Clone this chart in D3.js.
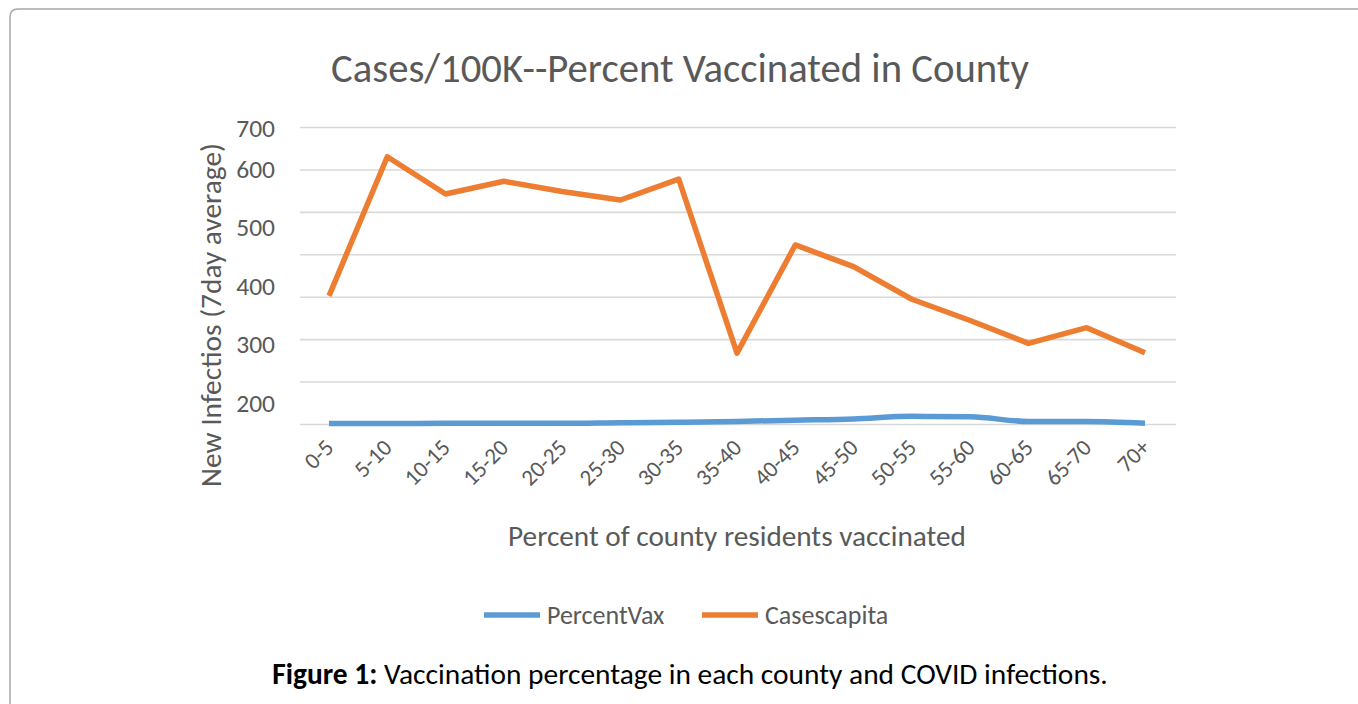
<!DOCTYPE html>
<html>
<head>
<meta charset="utf-8">
<script src="https://cdn.jsdelivr.net/npm/d3@7"></script>
<style>
  html, body { margin: 0; padding: 0; background: #fff; }
  svg { display: block; }
  text { font-family: Carlito, Calibri, Lato, "Open Sans", sans-serif; }
</style>
</head>
<body>
<script>
// ---- data ----
const categories = ["0-5","5-10","10-15","15-20","20-25","25-30","30-35","35-40","40-45","45-50","50-55","55-60","60-65","65-70","70+"];
const percentVax = [1, 1, 1.5, 1.5, 1.5, 3, 4, 6, 9, 12, 18, 17, 6, 6, 2];
const casesCapita = [302, 630, 542, 572, 548, 528, 577, 167, 422, 371, 294, 244, 190, 227, 168];
const gridValues = [0, 100, 200, 300, 400, 500, 600, 700];
const tickLabels = [700, 600, 500, 400, 300, 200];
const seriesNames = ["PercentVax", "Casescapita"];

const W = 1358, H = 704;
const svg = d3.select("body").append("svg").attr("width", W).attr("height", H);

// fit text to width helper
function fit(sel, width, base) {
  sel.attr("font-size", base);
  const len = sel.node().getComputedTextLength();
  if (len > 0) sel.attr("font-size", base * width / len);
  return sel;
}

// frame
svg.append("path")
  .attr("d", "M10,712 L10,17 Q10,9 18,9 L1370,9")
  .attr("fill", "none").attr("stroke", "#a6a6a6").attr("stroke-width", 1.5);

const x = d3.scalePoint().domain(categories).range([329, 1145]);
const y = d3.scaleLinear().domain([0, 700]).range([424, 127]);
const labelY = d3.scaleLinear().domain([200, 600, 700]).range([403, 169, 128]);

// gridlines
const gAxis = svg.append("g").attr("transform", "translate(300,0)")
  .call(d3.axisLeft(y).tickValues(gridValues).tickSize(-876).tickFormat(""));
gAxis.select(".domain").remove();
gAxis.selectAll(".tick line").attr("stroke", "#d9d9d9").attr("stroke-width", 1.6);

// y tick labels
svg.append("g").selectAll("text").data(tickLabels).join("text")
  .attr("x", 275).attr("y", d => labelY(d)).attr("dy", "0.35em")
  .attr("text-anchor", "end").attr("fill", "#595959").attr("font-size", 25.5)
  .text(d => d);

// x tick labels
svg.append("g").selectAll("text").data(categories).join("text")
  .attr("text-anchor", "end").attr("fill", "#595959").attr("font-size", 23)
  .attr("transform", d => `translate(${x(d) + 6},${449}) rotate(-45)`)
  .text(d => d);

// lines
const lineVax = d3.line().x((d, i) => x(categories[i])).y(d => y(d)).curve(d3.curveMonotoneX);
const lineCases = d3.line().x((d, i) => x(categories[i])).y(d => y(d));

svg.append("path").datum(percentVax).attr("d", lineVax)
  .attr("fill", "none").attr("stroke", "#5b9bd5").attr("stroke-width", 5.5).attr("stroke-linejoin", "round");
svg.append("path").datum(casesCapita).attr("d", lineCases)
  .attr("fill", "none").attr("stroke", "#ed7d31").attr("stroke-width", 5.5).attr("stroke-linejoin", "round");

// title
fit(svg.append("text").attr("x", 680).attr("y", 82).attr("text-anchor", "middle")
  .attr("fill", "#595959").text("Cases/100K--Percent Vaccinated in County"), 698, 36);

// y axis title
fit(svg.append("text").attr("transform", "translate(221,315) rotate(-90)").attr("text-anchor", "middle")
  .attr("fill", "#595959").text("New Infectios (7day average)"), 344, 24);

// x axis title
fit(svg.append("text").attr("x", 737).attr("y", 546).attr("text-anchor", "middle")
  .attr("fill", "#595959").text("Percent of county residents vaccinated"), 458, 24);

// legend
const legendColors = ["#5b9bd5", "#ed7d31"];
const legendX = [484, 702];
const lg = svg.append("g").selectAll("g").data(seriesNames).join("g")
  .attr("transform", (d, i) => `translate(${legendX[i]},615)`);
lg.append("line").attr("x1", 0).attr("x2", 56).attr("y1", 0).attr("y2", 0)
  .attr("stroke", (d, i) => legendColors[i]).attr("stroke-width", 5.5);
lg.append("text").attr("x", 63).attr("dy", "0.35em").attr("fill", "#595959").attr("font-size", 26)
  .text(d => d);

// caption
const cap = svg.append("text").attr("x", 690).attr("y", 684).attr("text-anchor", "middle").attr("fill", "#000");
cap.append("tspan").attr("font-weight", "bold").text("Figure 1:");
cap.append("tspan").text(" Vaccination percentage in each county and COVID infections.");
fit(cap, 836, 24);
</script>
</body>
</html>
